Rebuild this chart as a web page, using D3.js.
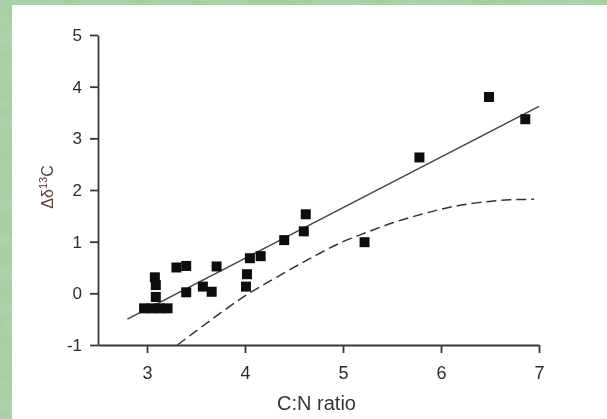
<!DOCTYPE html>
<html>
<head>
<meta charset="utf-8">
<script src="https://cdn.jsdelivr.net/npm/d3@7"></script>
<style>
  html, body { margin: 0; padding: 0; background: #a9d0a3; }
  svg { display: block; }
  text { font-family: "Liberation Sans", Arial, Helvetica, sans-serif; }
</style>
</head>
<body>
<svg id="chart" width="607" height="419"></svg>
<script>
// measured points (C:N ratio vs delta d13C)
const cnRatio = [6.49, 6.86, 5.78, 5.22, 4.62, 4.60, 4.40, 4.16, 4.05, 4.02, 4.01,
  3.71, 3.66, 3.57, 3.40, 3.40, 3.30, 3.08, 3.09, 3.09, 2.97, 3.05, 3.13, 3.21];
const deltaC = [3.80, 3.37, 2.63, 0.99, 1.53, 1.20, 1.03, 0.72, 0.68, 0.37, 0.13,
  0.52, 0.03, 0.13, 0.02, 0.53, 0.50, 0.31, 0.16, -0.07, -0.29, -0.29, -0.29, -0.29];

// regression line end points
const fitX = [2.80, 7.00];
const fitY = [-0.50, 3.62];

// dashed curve, read along its length
const curveX = [3.31, 3.50, 3.75, 4.00, 4.33, 4.67, 5.00, 5.20, 5.50, 5.80, 6.10, 6.44, 6.70, 6.95];
const curveY = [-1.00, -0.73, -0.38, -0.05, 0.32, 0.68, 1.00, 1.15, 1.36, 1.53, 1.67, 1.77, 1.81, 1.82];

const xTicks = [3, 4, 5, 6, 7];
const yTicks = [-1, 0, 1, 2, 3, 4, 5];

const svg = d3.select('#chart');
const width = +svg.attr('width');
const height = +svg.attr('height');

// green marbled slide background
const defs = svg.append('defs');
const f = defs.append('filter').attr('id', 'marble')
  .attr('x', 0).attr('y', 0).attr('width', '100%').attr('height', '100%');
f.append('feTurbulence')
  .attr('type', 'fractalNoise')
  .attr('baseFrequency', '0.02 0.06')
  .attr('numOctaves', 4)
  .attr('seed', 7);
f.append('feColorMatrix')
  .attr('type', 'matrix')
  .attr('values', '0 0 0 0 0.42  0 0 0 0 0.64  0 0 0 0 0.42  3 0 0 0 -1.2');

// soften the print a little, like the scanned figure
const soft = defs.append('filter').attr('id', 'soft');
soft.append('feGaussianBlur').attr('stdDeviation', 0.45);

svg.append('rect').attr('width', width).attr('height', height).attr('fill', '#a6cfa0');
svg.append('rect').attr('width', width).attr('height', height)
  .attr('filter', 'url(#marble)');

// white panel
svg.append('rect')
  .attr('x', 12).attr('y', 5)
  .attr('width', width - 12).attr('height', height - 5)
  .attr('fill', '#fff');

const plot = svg.append('g').attr('filter', 'url(#soft)');

const x = d3.scaleLinear().domain([2.5, 7]).range([98, 539]);
const y = d3.scaleLinear().domain([-1, 5]).range([345, 35]);

const axisColor = '#383838';
const fmt = d => String(d);

const xAxis = plot.append('g')
  .attr('transform', `translate(0,${y(-1)})`)
  .call(d3.axisBottom(x).tickValues(xTicks).tickFormat(fmt)
    .tickSize(8).tickSizeOuter(0).tickPadding(13));

const yAxis = plot.append('g')
  .attr('transform', `translate(${x(2.5)},0)`)
  .call(d3.axisLeft(y).tickValues(yTicks).tickFormat(fmt)
    .tickSize(8).tickSizeOuter(0).tickPadding(8));

[xAxis, yAxis].forEach(g => {
  g.select('.domain').attr('stroke', axisColor).attr('stroke-width', 1.8);
  g.selectAll('.tick line').attr('stroke', axisColor).attr('stroke-width', 1.8);
  g.selectAll('.tick text').attr('fill', '#2b2b36');
});
xAxis.selectAll('.tick text').style('font-size', '18px');
yAxis.selectAll('.tick text').style('font-size', '17px');

// axis titles
plot.append('text')
  .attr('x', (x(2.5) + x(7)) / 2 - 2)
  .attr('y', 410)
  .attr('text-anchor', 'middle')
  .attr('fill', '#363636')
  .style('font-size', '20px')
  .text('C:N ratio');

const yTitle = plot.append('text')
  .attr('transform', `translate(53,${(y(-1) + y(5)) / 2 - 3}) rotate(-90)`)
  .attr('text-anchor', 'middle')
  .attr('fill', '#5a4038')
  .style('font-size', '16px');
yTitle.append('tspan').text('\u0394\u03b4');
yTitle.append('tspan').attr('baseline-shift', 'super').style('font-size', '11px').text('13');
yTitle.append('tspan').text('C');

// regression line
const line = d3.line().x(d => x(d[0])).y(d => y(d[1]));
plot.append('path')
  .datum(d3.zip(fitX, fitY))
  .attr('d', line)
  .attr('fill', 'none')
  .attr('stroke', '#444')
  .attr('stroke-width', 1.5);

// dashed curve
plot.append('path')
  .datum(d3.zip(curveX, curveY))
  .attr('d', line.curve(d3.curveMonotoneX))
  .attr('fill', 'none')
  .attr('stroke', '#333')
  .attr('stroke-width', 1.5)
  .attr('stroke-dasharray', '10,5');

// square markers
const s = 10;
plot.selectAll('.pt')
  .data(d3.zip(cnRatio, deltaC))
  .enter().append('rect')
  .attr('class', 'pt')
  .attr('x', d => x(d[0]) - s / 2)
  .attr('y', d => y(d[1]) - s / 2)
  .attr('width', s)
  .attr('height', s)
  .attr('fill', '#111');
</script>
</body>
</html>
